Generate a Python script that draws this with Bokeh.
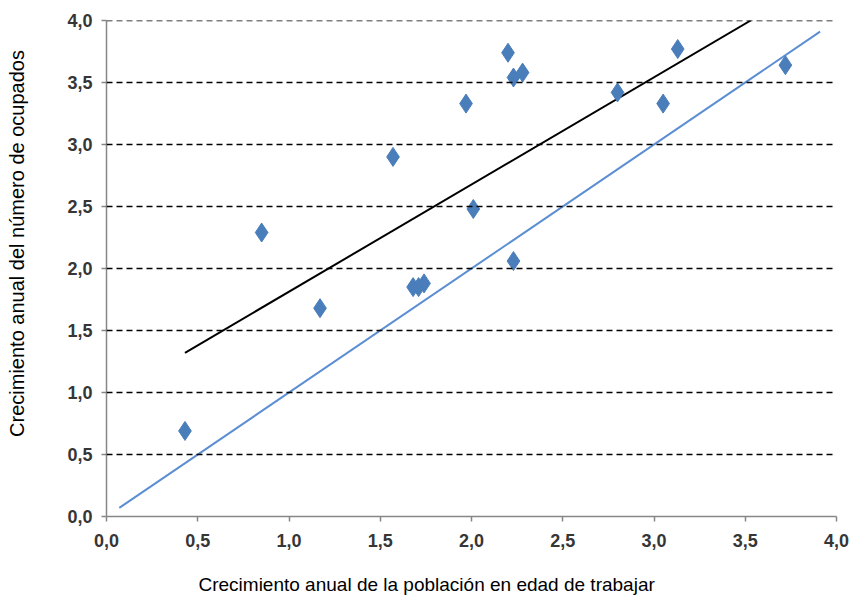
from bokeh.plotting import figure
from bokeh.models import FixedTicker, Range1d, Span
from bokeh.embed import file_html
from bokeh.resources import INLINE

# Data
pob_x = [0.43, 0.85, 1.17, 1.57, 1.97, 2.01, 2.20, 2.23, 2.28, 2.23, 1.68, 1.71, 1.74, 2.80, 3.05, 3.13, 3.72]
ocu_y = [0.69, 2.29, 1.68, 2.90, 3.33, 2.48, 3.74, 3.54, 3.58, 2.06, 1.85, 1.85, 1.88, 3.42, 3.33, 3.77, 3.64]

trend_x = [0.43, 3.53]
trend_y = [1.32, 4.00]

diag_x = [0.07, 3.91]
diag_y = [0.07, 3.91]

ticks = [0.0, 0.5, 1.0, 1.5, 2.0, 2.5, 3.0, 3.5, 4.0]
tick_labels = {t: f"{t:.1f}".replace(".", ",") for t in ticks}

x_title = "Crecimiento anual de la población en edad de trabajar"
y_title = "Crecimiento anual del número de ocupados"

FONT = "Liberation Sans"
NBSP = "\u00a0"

p = figure(width=849, height=601, output_backend="svg", toolbar_location=None,
           x_range=Range1d(0, 4), y_range=Range1d(0, 4),
           min_border_left=106, min_border_right=13, min_border_top=20, min_border_bottom=85)
p.outline_line_color = None
p.xgrid.grid_line_color = None
p.ygrid.grid_line_color = None

for t in ticks[1:]:
    p.add_layout(Span(location=t, dimension="width", line_color="#000000",
                      line_dash="6 4", line_width=1.5))

for ax in (p.xaxis[0], p.yaxis[0]):
    ax.ticker = FixedTicker(ticks=ticks)
    ax.major_label_overrides = tick_labels
    ax.axis_line_color = "#868686"
    ax.axis_line_width = 1.5
    ax.major_tick_line_color = "#868686"
    ax.major_tick_line_width = 1.5
    ax.major_tick_out = 5
    ax.major_tick_in = 0
    ax.minor_tick_line_color = None
    ax.major_label_text_font = FONT
    ax.major_label_text_font_size = "18px"
    ax.major_label_text_font_style = "bold"
    ax.major_label_text_color = "#363636"
    ax.axis_label_text_font = FONT
    ax.axis_label_text_font_style = "normal"
    ax.axis_label_text_color = "#000000"

p.xaxis[0].major_label_standoff = 12
p.yaxis[0].major_label_standoff = 9

# shift the axis titles along their axes as in the reference
p.xaxis[0].axis_label = x_title + NBSP * 17
p.xaxis[0].axis_label_text_font_size = "19px"
p.xaxis[0].axis_label_standoff = 24
p.yaxis[0].axis_label = NBSP * 9 + y_title
p.yaxis[0].axis_label_text_font_size = "20px"
p.yaxis[0].axis_label_standoff = 36

p.line(diag_x, diag_y, line_color="#5B8ED2", line_width=2)
p.line(trend_x, trend_y, line_color="#000000", line_width=2)
p.scatter(pob_x, ocu_y, marker="diamond", size=19, fill_color="#4A7EBB", line_color="#4A7EBB")

open("out.html", "w").write(file_html(p, INLINE))
